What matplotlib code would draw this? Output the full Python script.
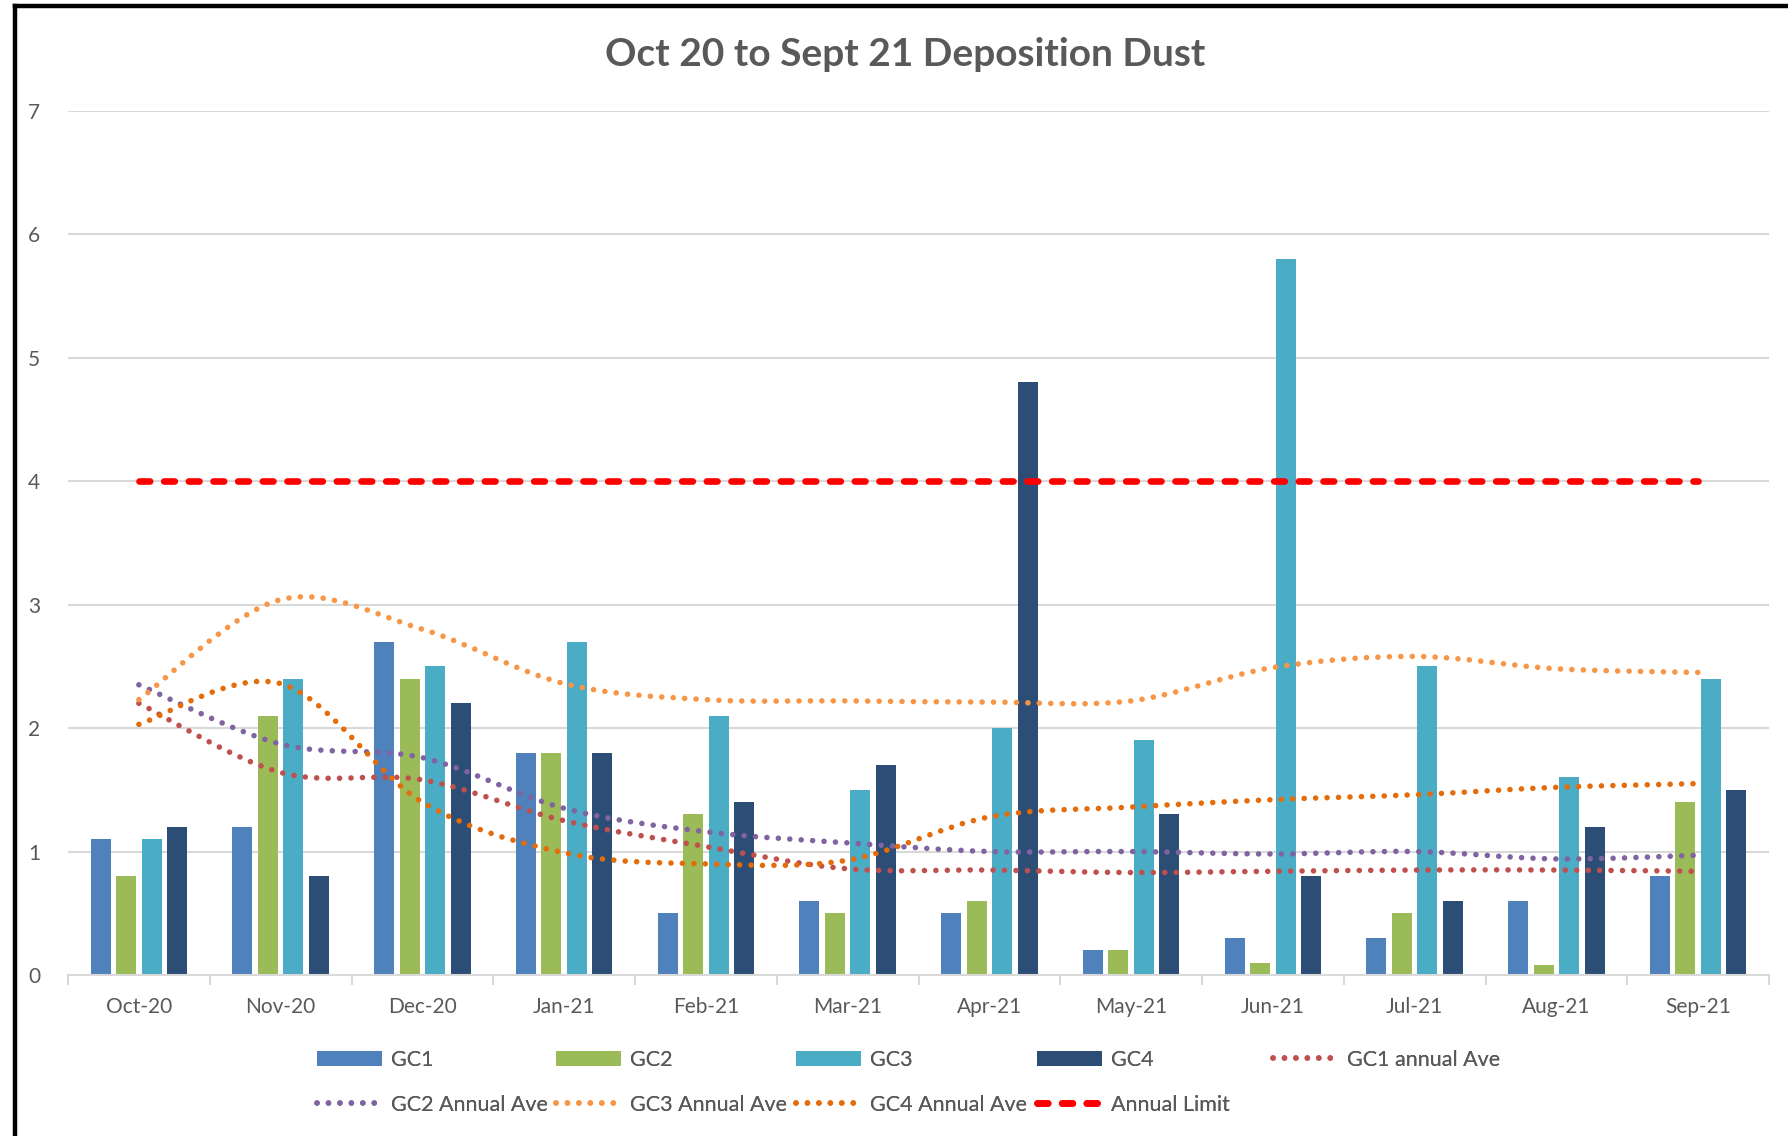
import numpy as np
import matplotlib
matplotlib.use('Agg')
import matplotlib.pyplot as plt
from matplotlib.path import Path
from matplotlib.patches import PathPatch, Patch
from matplotlib.lines import Line2D

plt.rcParams['font.family'] = ['Lato', 'DejaVu Sans']

months = ['Oct-20', 'Nov-20', 'Dec-20', 'Jan-21', 'Feb-21', 'Mar-21',
          'Apr-21', 'May-21', 'Jun-21', 'Jul-21', 'Aug-21', 'Sep-21']

gc1 = [1.1, 1.2, 2.7, 1.8, 0.5, 0.6, 0.5, 0.2, 0.3, 0.3, 0.6, 0.8]
gc2 = [0.8, 2.1, 2.4, 1.8, 1.3, 0.5, 0.6, 0.2, 0.1, 0.5, 0.08, 1.4]
gc3 = [1.1, 2.4, 2.5, 2.7, 2.1, 1.5, 2.0, 1.9, 5.8, 2.5, 1.6, 2.4]
gc4 = [1.2, 0.8, 2.2, 1.8, 1.4, 1.7, 4.8, 1.3, 0.8, 0.6, 1.2, 1.5]

gc1_ave = [2.2, 1.64, 1.58, 1.25, 1.04, 0.86, 0.85, 0.83, 0.84, 0.85, 0.85, 0.84]
gc2_ave = [2.35, 1.87, 1.76, 1.35, 1.16, 1.07, 1.0, 1.0, 0.98, 1.0, 0.94, 0.97]
gc3_ave = [2.23, 3.04, 2.80, 2.36, 2.23, 2.22, 2.21, 2.22, 2.49, 2.58, 2.48, 2.45]
gc4_ave = [2.03, 2.36, 1.40, 0.99, 0.90, 0.93, 1.28, 1.36, 1.42, 1.46, 1.52, 1.55]
annual_limit = [4, 4, 4, 4, 4, 4, 4, 4, 4, 4, 4, 4]

bar_names = ['GC1', 'GC2', 'GC3', 'GC4']
bar_colors = ['#4F81BD', '#9BBB59', '#4BACC6', '#2C4D75']
ave_names = ['GC1 annual Ave', 'GC2 Annual Ave', 'GC3 Annual Ave', 'GC4 Annual Ave']
ave_colors = ['#C0504D', '#8064A2', '#F79646', '#E46C0A']

txt = '#595959'
grid = '#D9D9D9'
dot_lw = 4.0
dot_style = (0, (0.01, 2.05))
dash_style = (0, (1.6, 2.1))


def smooth_path(x, y):
    # excel-like smoothed line: catmull-rom turned into cubic bezier pieces
    p = np.column_stack([x, y]).astype(float)
    ext = np.vstack([p[0], p, p[-1]])
    verts = [p[0]]
    codes = [Path.MOVETO]
    for i in range(len(p) - 1):
        c1 = ext[i + 1] + (ext[i + 2] - ext[i]) / 6.0
        c2 = ext[i + 2] - (ext[i + 3] - ext[i + 1]) / 6.0
        verts += [c1, c2, ext[i + 2]]
        codes += [Path.CURVE4] * 3
    return Path(verts, codes)


fig = plt.figure(figsize=(17.88, 11.36), dpi=100)
ax = fig.add_axes([68 / 1788, 1 - 975 / 1136, (1769 - 68) / 1788, (975 - 110.6) / 1136])

x = np.arange(len(months))
w = 0.14
step = 0.18
for k, (vals, col) in enumerate(zip([gc1, gc2, gc3, gc4], bar_colors)):
    ax.bar(x + (k - 1.5) * step, vals, width=w, color=col, zorder=2)

for vals, col in zip([gc1_ave, gc2_ave, gc3_ave, gc4_ave], ave_colors):
    pp = PathPatch(smooth_path(x, vals), fill=False, edgecolor=col, lw=dot_lw,
                   linestyle=dot_style, zorder=3)
    pp.set_capstyle('round')
    ax.add_patch(pp)

ax.plot(x, annual_limit, color='#FF0000', lw=4.8, linestyle=dash_style,
        dash_capstyle='round', zorder=4)

ax.set_xlim(-0.5, len(months) - 0.5)
ax.set_ylim(0, 7)
ax.set_yticks(range(0, 8))
ax.yaxis.grid(True, color=grid, lw=1.5)
ax.set_axisbelow(True)
for s in ['top', 'right', 'left']:
    ax.spines[s].set_visible(False)
ax.spines['bottom'].set_color(grid)
ax.spines['bottom'].set_linewidth(1.5)

ax.set_xticks(x)
ax.set_xticklabels(months)
ax.set_xticks(np.arange(-0.5, len(months)), minor=True)
ax.tick_params(axis='x', which='major', length=0, pad=16, labelsize=15, labelcolor=txt)
ax.tick_params(axis='x', which='minor', length=7, width=1.5, color=grid)
ax.tick_params(axis='y', length=0, pad=20, labelsize=15, labelcolor=txt)

fig.text(905 / 1788, 1 - 55 / 1136, 'Oct 20 to Sept 21 Deposition Dust',
         ha='center', va='center', fontsize=28, fontweight='bold', color=txt)

# legend, built column by column so spacing matches
bar_h = [Patch(facecolor=c) for c in bar_colors]
ave_h = [Line2D([], [], color=c, lw=dot_lw, linestyle=dot_style, dash_capstyle='round')
         for c in ave_colors]
lim_h = Line2D([], [], color='#FF0000', lw=4.8, linestyle=dash_style, dash_capstyle='round')
columns = [
    ([bar_h[0], ave_h[1]], [bar_names[0], ave_names[1]]),
    ([bar_h[1], ave_h[2]], [bar_names[1], ave_names[2]]),
    ([bar_h[2], ave_h[3]], [bar_names[2], ave_names[3]]),
    ([bar_h[3], lim_h], [bar_names[3], 'Annual Limit']),
    ([ave_h[0]], [ave_names[0]]),
]
col_x = [317, 556, 796, 1037, 1273]
for (hs, ls), cx in zip(columns, col_x):
    lg = fig.legend(hs, ls, loc='upper left', bbox_to_anchor=(cx / 1788, 1 - 1050 / 1136),
                    frameon=False, fontsize=15.5, handlelength=3.0, handleheight=0.7,
                    handletextpad=0.45, labelspacing=1.15, borderpad=0, borderaxespad=0,
                    labelcolor=txt)
    fig.add_artist(lg)

# black frame on left and top edges
fig.add_artist(Line2D([15 / 1788, 15 / 1788], [0, 1 - 6 / 1136], color='black', lw=3.2))
fig.add_artist(Line2D([15 / 1788, 1], [1 - 6 / 1136, 1 - 6 / 1136], color='black', lw=3.2))

fig.savefig('out.png', dpi=100)
